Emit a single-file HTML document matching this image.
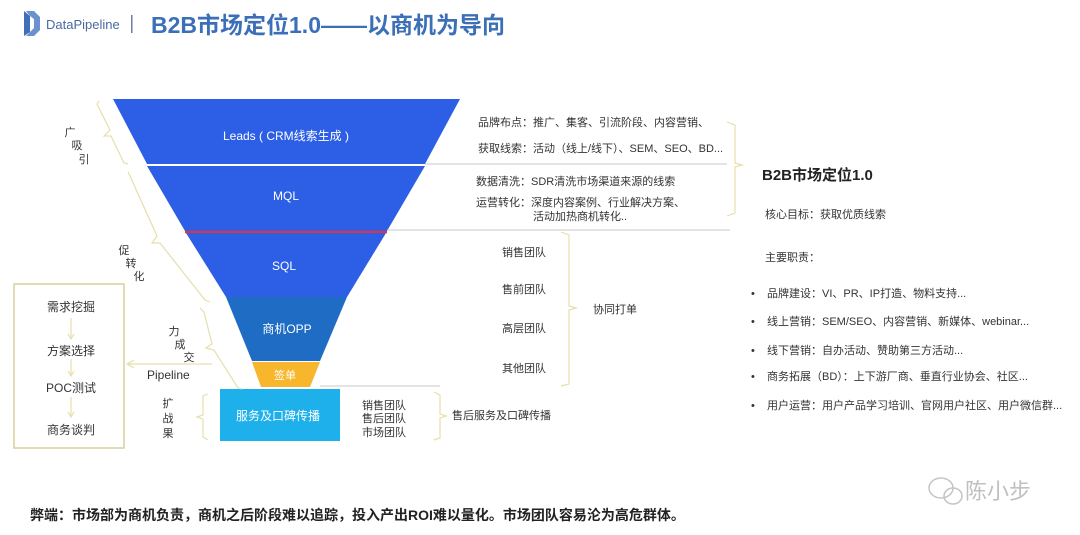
<!DOCTYPE html>
<html><head><meta charset="utf-8">
<style>
html,body{margin:0;padding:0;background:#fff;}
svg{display:block;}
text{font-family:"Liberation Sans","Noto Sans CJK SC",sans-serif;}
</style></head>
<body>
<svg width="1080" height="535" viewBox="0 0 1080 535" xmlns="http://www.w3.org/2000/svg">
<rect width="1080" height="535" fill="#fff"/>
<!-- header -->
<path d="M24 11 L24 36 L30 32 L30 16 Z" fill="#3f6fb8"/>
<path d="M26 11 L34 11 L40 17 L40 30 L34 36 L26 36 L30 32 L34 28 L34 19 L30 16 Z" fill="#5a86c8" opacity="0.9"/>
<text x="46" y="29" font-size="13" fill="#4a6aa0">DataPipeline</text>
<rect x="131" y="15" width="1.5" height="18" fill="#6b7fa8"/>
<text x="151" y="33" font-size="23" font-weight="bold" fill="#3b6fb8">B2B市场定位1.0——以商机为导向</text>

<!-- funnel -->
<polygon points="113,99 460,99 425,164 147,164" fill="#2d5fe6"/>
<polygon points="147,166 425,166 387,231 185,231" fill="#2d5fe6"/>
<line x1="185" y1="232" x2="387" y2="232" stroke="#d6364a" stroke-width="2.5"/>
<polygon points="186,233 386,233 347,297 226,297" fill="#2d5fe6"/>
<polygon points="226,297 347,297 320,361 252,361" fill="#1e6cc4"/>
<polygon points="252,362 320,362 310,387 261,387" fill="#f8b62c"/>
<rect x="220" y="389" width="120" height="52" fill="#1eb0ea"/>
<line x1="425" y1="164" x2="727" y2="164" stroke="#c8c8c8" stroke-width="1"/>
<line x1="387" y1="230" x2="730" y2="230" stroke="#c8c8c8" stroke-width="1"/>
<line x1="320" y1="386" x2="440" y2="386" stroke="#c8c8c8" stroke-width="1"/>
<text x="286" y="140" font-size="12" fill="#fff" text-anchor="middle">Leads ( CRM线索生成 )</text>
<text x="286" y="200" font-size="12" fill="#fff" text-anchor="middle">MQL</text>
<text x="284" y="270" font-size="12" fill="#fff" text-anchor="middle">SQL</text>
<text x="287" y="333" font-size="12" fill="#fff" text-anchor="middle">商机OPP</text>
<text x="285" y="379" font-size="11" fill="#fff" text-anchor="middle">签单</text>
<text x="278" y="420" font-size="12" fill="#fff" text-anchor="middle">服务及口碑传播</text>

<!-- left brackets -->
<g stroke="#e6dfaa" stroke-width="1.2" fill="none">
<polyline points="99,101 97,104 110,130 104,136 111,136 124,163 128,164"/>
<polyline points="128,172 130,176 157,236 152,243 160,243 205,300 210,302"/>
<polyline points="200,308 204,312 212,344 206,348 214,350 238,388 242,389"/>
<polyline points="208,394 203,396 203,415 197,417 203,419 203,437 208,440"/>
<polyline points="434,392 440,395 440,414 446,416 440,418 440,438 434,440"/>
<polyline points="727,122 735,125 735,163 742,165 735,167 735,213 727,216"/>
<polyline points="561,232 569,235 569,306 576,308 569,310 569,384 561,386"/>
<line x1="212" y1="364" x2="128" y2="364"/>
<polyline points="134,360 127,364 134,368"/>
<line x1="71" y1="318" x2="71" y2="338"/><polyline points="68,334 71,339 74,334"/>
<line x1="71" y1="359" x2="71" y2="375"/><polyline points="68,371 71,376 74,371"/>
<line x1="71" y1="397" x2="71" y2="416"/><polyline points="68,412 71,417 74,412"/>
</g>
<rect x="14" y="284" width="110" height="164" fill="none" stroke="#d8cf9a" stroke-width="1.5"/>
<text x="71" y="311" font-size="12" fill="#333" text-anchor="middle">需求挖掘</text>
<text x="71" y="355" font-size="12" fill="#333" text-anchor="middle">方案选择</text>
<text x="71" y="392" font-size="12" fill="#333" text-anchor="middle">POC测试</text>
<text x="71" y="434" font-size="12" fill="#333" text-anchor="middle">商务谈判</text>
<text x="147" y="379" font-size="12" fill="#333">Pipeline</text>
<g font-size="11" fill="#333" text-anchor="middle">
<text x="70" y="136">广</text><text x="77" y="149">吸</text><text x="84" y="163">引</text>
<text x="124" y="254">促</text><text x="131" y="267">转</text><text x="139" y="280">化</text>
<text x="174" y="335">力</text><text x="180" y="348">成</text><text x="189" y="361">交</text>
<text x="168" y="407">扩</text><text x="168" y="422">战</text><text x="168" y="437">果</text>
</g>

<!-- middle texts -->
<g font-size="11" fill="#333">
<text x="478" y="126">品牌布点：推广、集客、引流阶段、内容营销、</text>
<text x="478" y="152">获取线索：活动（线上/线下）、SEM、SEO、BD...</text>
<text x="476" y="185">数据清洗：SDR清洗市场渠道来源的线索</text>
<text x="476" y="206">运营转化：深度内容案例、行业解决方案、</text>
<text x="533" y="220">活动加热商机转化..</text>
<text x="502" y="256">销售团队</text>
<text x="502" y="293">售前团队</text>
<text x="502" y="332">高层团队</text>
<text x="502" y="372">其他团队</text>
<text x="593" y="313">协同打单</text>
<text x="362" y="409">销售团队</text>
<text x="362" y="422">售后团队</text>
<text x="362" y="436">市场团队</text>
<text x="452" y="419">售后服务及口碑传播</text>
</g>

<!-- right panel -->
<text x="762" y="180" font-size="15" font-weight="bold" fill="#222">B2B市场定位1.0</text>
<g font-size="11" fill="#333">
<text x="765" y="218">核心目标：获取优质线索</text>
<text x="765" y="261">主要职责：</text>
<text x="751" y="297">•</text><text x="767" y="297">品牌建设：VI、PR、IP打造、物料支持...</text>
<text x="751" y="325">•</text><text x="767" y="325">线上营销：SEM/SEO、内容营销、新媒体、webinar...</text>
<text x="751" y="354">•</text><text x="767" y="354">线下营销：自办活动、赞助第三方活动...</text>
<text x="751" y="380">•</text><text x="767" y="380">商务拓展（BD）：上下游厂商、垂直行业协会、社区...</text>
<text x="751" y="409">•</text><text x="767" y="409">用户运营：用户产品学习培训、官网用户社区、用户微信群...</text>
</g>

<!-- bottom -->
<text x="30" y="520" font-size="14" font-weight="bold" fill="#222">弊端：市场部为商机负责，商机之后阶段难以追踪，投入产出ROI难以量化。市场团队容易沦为高危群体。</text>
<g fill="none" stroke="#c4c4c4" stroke-width="1.5">
<ellipse cx="941" cy="488" rx="12" ry="10"/>
<ellipse cx="953" cy="496" rx="9" ry="8"/>
</g>
<text x="965" y="499" font-size="22" fill="#c0c0c0">陈小步</text>
</svg>
</body></html>
